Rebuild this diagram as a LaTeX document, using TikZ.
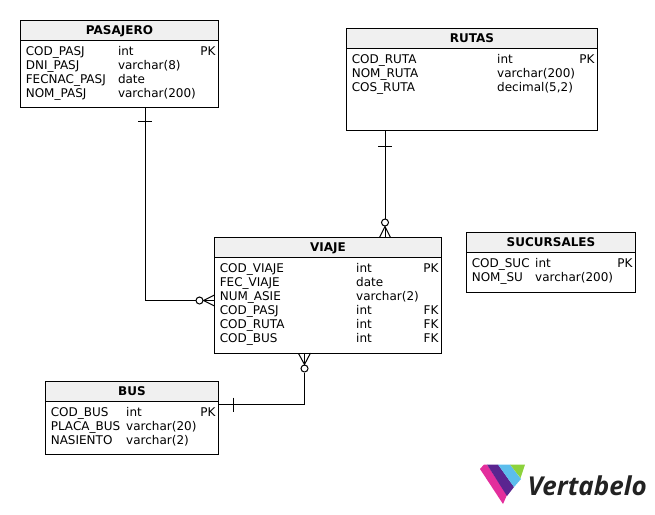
\documentclass[tikz,border=0pt]{standalone}
\usepackage{fontspec}
\setmainfont{DejaVu Sans}
\newfontfamily\logofont{Open Sans}
\usepackage{xcolor}
\usetikzlibrary{positioning}
\definecolor{VBHead}{HTML}{F0F0F0}
\definecolor{VBPink}{HTML}{E32E9C}
\definecolor{VBPurple}{HTML}{5A2590}
\definecolor{VBBlue}{HTML}{5CBDEC}
\definecolor{VBGreen}{HTML}{8CD23C}
\definecolor{VBInk}{HTML}{222222}

\begin{document}
\begin{tikzpicture}[
    x=1pt,y=-1pt,font=\fontsize{12}{14}\selectfont,line width=1pt,
    tablebox/.style={draw=black,fill=white,anchor=north west,outer sep=0pt,inner sep=0pt},
    headbox/.style={draw=black,fill=VBHead,anchor=north west,outer sep=0pt,inner sep=0pt,
      minimum height=19.5pt,text height=11pt,text depth=3pt,font=\fontsize{12}{14}\selectfont\bfseries},
    coltext/.style={anchor=base west,align=left,inner sep=0pt},
    keytext/.style={anchor=base east,align=right,inner sep=0pt},
    link/.style={draw=black,line width=1pt},
    opt/.style={circle,draw=black,fill=white,line width=1pt,minimum size=7pt,inner sep=0pt}
  ]
    \useasboundingbox (0,0) rectangle (655,514);

    % tables
    \node[tablebox,minimum width=198pt,minimum height=86.5pt] (pasajero) at (20.5,20.5) {};
    \node[headbox,minimum width=198pt] (pasajerohead) at (20.5,20.5) {PASAJERO};
    \node[coltext] (pasajeroname) at (25.3,97) {COD\_PASJ\\DNI\_PASJ\\FECNAC\_PASJ\\NOM\_PASJ};
    \node[coltext] (pasajerotype) at (117.5,97) {int\\varchar(8)\\date\\varchar(200)};
    \node[keytext] (pasajerokey) at (216,55) {PK};

    \node[tablebox,minimum width=251pt,minimum height=102pt] (rutas) at (346.5,28.5) {};
    \node[headbox,minimum width=251pt] (rutashead) at (346.5,28.5) {RUTAS};
    \node[coltext] (rutasname) at (351.3,91) {COD\_RUTA\\NOM\_RUTA\\COS\_RUTA};
    \node[coltext] (rutastype) at (496.7,91) {int\\varchar(200)\\decimal(5,2)};
    \node[keytext] (rutaskey) at (595,63) {PK};

    \node[tablebox,minimum width=227pt,minimum height=116pt] (viaje) at (214.5,237.5) {};
    \node[headbox,minimum width=227pt] (viajehead) at (214.5,237.5) {VIAJE};
    \node[coltext] (viajename) at (219.3,342) {COD\_VIAJE\\FEC\_VIAJE\\NUM\_ASIE\\COD\_PASJ\\COD\_RUTA\\COD\_BUS};
    \node[coltext] (viajetype) at (355.7,342) {int\\date\\varchar(2)\\int\\int\\int};
    \node[keytext] (viajepk) at (439,272) {PK};
    \node[keytext] (viajefk) at (439,342) {FK\\FK\\FK};

    \node[tablebox,minimum width=169pt,minimum height=60pt] (sucursales) at (466.5,232.5) {};
    \node[headbox,minimum width=169pt] (sucursaleshead) at (466.5,232.5) {SUCURSALES};
    \node[coltext] (sucursalesname) at (471.3,281) {COD\_SUC\\NOM\_SU};
    \node[coltext] (sucursalestype) at (534.7,281) {int\\varchar(200)};
    \node[keytext] (sucursaleskey) at (633,267) {PK};

    \node[tablebox,minimum width=173pt,minimum height=73pt] (bus) at (45.5,381.5) {};
    \node[headbox,minimum width=173pt] (bushead) at (45.5,381.5) {BUS};
    \node[coltext] (busname) at (50.3,444) {COD\_BUS\\PLACA\_BUS\\NASIENTO};
    \node[coltext] (bustype) at (125.7,444) {int\\varchar(20)\\varchar(2)};
    \node[keytext] (buskey) at (216,416) {PK};

    % PASAJERO to VIAJE
    \coordinate (pasajeroout) at (pasajero.south -| 145,0);
    \coordinate (viajeinp) at (viaje.west |- 0,300.5);
    \node[opt] (pasajeroopt) at (199.5,300.5) {};
    \draw[link] (pasajeroout) |- (pasajeroopt);
    \draw[link] (145-7,121.5) -- (145+7,121.5);
    \draw[link] (pasajeroopt) -- (viajeinp);
    \draw[link] (viajeinp) ++(0,-5.5) -- (pasajeroopt.east) -- ++(11,5.5);

    % RUTAS to VIAJE
    \coordinate (rutasout) at (rutas.south -| 385,0);
    \coordinate (viajeinr) at (viaje.north -| 385,0);
    \node[opt] (rutasopt) at (385,222.5) {};
    \draw[link] (rutasout) -- (rutasopt);
    \draw[link] (385-7,146.5) -- (385+7,146.5);
    \draw[link] (rutasopt) -- (viajeinr);
    \draw[link] (viajeinr) ++(-5.5,0) -- (rutasopt.south) -- ++(5.5,11);

    % BUS to VIAJE
    \coordinate (busout) at (bus.east |- 0,404.5);
    \coordinate (viajeinb) at (viaje.south -| 304.5,0);
    \node[opt] (busopt) at (304.5,368.5) {};
    \draw[link] (busout) -| (busopt);
    \draw[link] (233.5,397.5) -- (233.5,411.5);
    \draw[link] (busopt) -- (viajeinb);
    \draw[link] (viajeinb) ++(-6,0) -- (busopt.north) -- ++(6,-11.5);

    % logo
    \fill[VBPink] (480,469) -- (484,464.5) -- (487,464.5) -- (507,495) -- (503,504) -- cycle;
    \fill[VBPurple] (487,464.5) -- (498,464.5) -- (514,487) -- (507,496) -- cycle;
    \fill[VBBlue] (498,464.5) -- (510,464.5) -- (521,479) -- (514,487) -- cycle;
    \fill[VBGreen] (510,464.5) -- (525,464.5) -- (520.5,478) -- cycle;
    \node[anchor=base west,inner sep=0pt,text=VBInk,font=\logofont\fontsize{26}{28}\selectfont\bfseries\itshape] (logotext) at (527,495) {Vertabelo};
  \end{tikzpicture}
\end{document}
